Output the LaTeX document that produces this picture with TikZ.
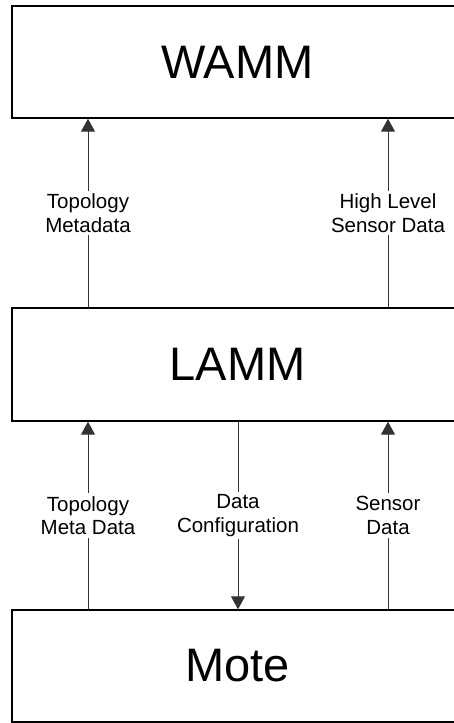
\documentclass[tikz,border=0pt]{standalone}
\usepackage{fontspec}
\setmainfont{Liberation Sans}
\usetikzlibrary{arrows.meta}
\tikzset{
  layerbox/.style={draw=black, line width=1.4pt, fill=white, minimum width=451pt, inner sep=0pt, font=\fontsize{47}{52}\selectfont},
  conn/.style={draw=black!80, line width=1pt, -{Triangle[width=14pt,length=13pt]}},
  lbl/.style={fill=white, inner sep=3pt, align=center, font=\fontsize{20.5}{23.5}\selectfont, text=black}
}
\begin{document}
\begin{tikzpicture}[x=1pt,y=-1pt]
\useasboundingbox (0,0) rectangle (454,723);
\clip (0,0) rectangle (454,723);
\node[layerbox, minimum height=112pt] (wamm) at (237.5,62) {WAMM};
\node[layerbox, minimum height=113pt] (lamm) at (237.5,364.5) {LAMM};
\node[layerbox, minimum height=112pt] (mote) at (237.5,666) {Mote};
\coordinate (cl) at (88,0);
\coordinate (cm) at (238,0);
\coordinate (cr) at (388,0);
\draw[conn] (lamm.north -| cl) -- (wamm.south -| cl) node[midway, lbl] {Topology\\Metadata};
\draw[conn] (lamm.north -| cr) -- (wamm.south -| cr) node[midway, lbl] {High Level\\Sensor Data};
\draw[conn] (mote.north -| cl) -- (lamm.south -| cl) node[midway, lbl] {Topology\\Meta Data};
\draw[conn] (lamm.south -| cm) -- (mote.north -| cm) node[midway, lbl] {Data\\Configuration};
\draw[conn] (mote.north -| cr) -- (lamm.south -| cr) node[midway, lbl] {Sensor\\Data};
\end{tikzpicture}
\end{document}
